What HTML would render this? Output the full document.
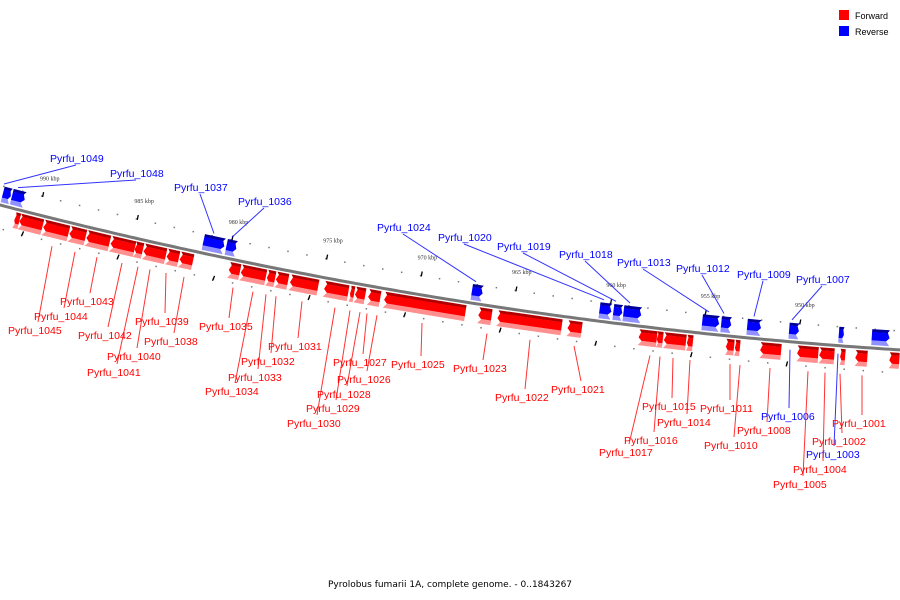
<!DOCTYPE html>
<html><head><meta charset="utf-8"><style>
html,body{margin:0;padding:0;background:#fff;}
svg{display:block;font-family:"Liberation Sans",sans-serif;}
</style></head><body>
<svg id="chart" width="900" height="600" viewBox="0 0 900 600" xmlns="http://www.w3.org/2000/svg">
<g id="ticks"></g>
<path id="backbone" fill="none" stroke="#777" stroke-width="3"/>
<g id="genes"></g>
<g id="labels"></g>
<g>
<rect x="839" y="10" width="10" height="10" fill="#f00"/>
<text x="855" y="19" font-size="9" fill="#000">Forward</text>
<rect x="839" y="26" width="10" height="10" fill="#00f"/>
<text x="855" y="35" font-size="9" fill="#000">Reverse</text>
</g>
<text x="450" y="587" font-size="9" font-family="DejaVu Sans, sans-serif" text-anchor="middle" fill="#000">Pyrolobus fumarii 1A, complete genome. - 0..1843267</text>
</svg>
<script>
// gene data (kbp)
const geneStart = [991.52,990.79,991.05,990.79,989.53,988.16,987.27,986.00,984.74,984.27,983.06,982.38,981.38,980.17,979.80,979.17,977.80,977.33,976.59,974.80,973.44,973.18,972.49,971.65,967.23,966.71,965.71,962.03,960.50,959.77,959.24,958.30,957.35,956.98,955.77,955.09,954.09,953.72,953.25,952.72,951.93,950.51,949.99,948.83,947.89,947.73,946.94,946.15,945.15];
const geneEnd   = [991.95,991.47,990.79,989.58,988.21,987.32,986.06,984.74,984.32,983.11,982.43,981.69,980.27,979.64,979.22,977.86,977.38,976.70,975.12,973.54,973.23,972.65,971.86,967.39,966.66,966.02,962.34,961.29,959.87,959.30,958.30,957.35,957.03,955.82,955.46,954.19,953.56,953.30,952.99,951.99,950.83,949.99,948.88,948.04,947.62,947.47,946.31,945.21,944.63];
const geneStrand= ["R","R","F","F","F","F","F","F","F","F","F","F","R","R","F","F","F","F","F","F","F","F","F","F","R","F","F","F","R","R","R","F","F","F","F","R","R","F","F","R","F","R","F","F","R","F","F","R","F"];
const tickKbp = [990,985,980,975,970,965,960,955,950];
const tickLabels = ["990 kbp","985 kbp","980 kbp","975 kbp","970 kbp","965 kbp","960 kbp","955 kbp","950 kbp"];
const labelNames = ["Pyrfu_1049","Pyrfu_1048","Pyrfu_1037","Pyrfu_1036","Pyrfu_1024","Pyrfu_1020","Pyrfu_1019","Pyrfu_1018","Pyrfu_1013","Pyrfu_1012","Pyrfu_1009","Pyrfu_1007","Pyrfu_1006","Pyrfu_1003",
"Pyrfu_1043","Pyrfu_1044","Pyrfu_1045","Pyrfu_1042","Pyrfu_1039","Pyrfu_1038","Pyrfu_1040","Pyrfu_1041","Pyrfu_1035","Pyrfu_1031","Pyrfu_1032","Pyrfu_1033","Pyrfu_1034","Pyrfu_1027","Pyrfu_1026","Pyrfu_1025","Pyrfu_1028","Pyrfu_1029","Pyrfu_1030","Pyrfu_1023","Pyrfu_1022","Pyrfu_1021","Pyrfu_1015","Pyrfu_1014","Pyrfu_1016","Pyrfu_1017","Pyrfu_1011","Pyrfu_1010","Pyrfu_1008","Pyrfu_1001","Pyrfu_1002","Pyrfu_1004","Pyrfu_1005"];
const labelKind = ["up","up","up","up","up","up","up","up","up","up","up","up","bdn","bdn",
"dn","dn","dn","dn","dn","dn","dn","dn","dn","dn","dn","dn","dn","dn","dn","dn","dn","dn","dn","dn","dn","dn","dn","dn","dn","dn","dn","dn","dn","dn","dn","dn","dn"];
// label layout (x, center y, leader target x)
const labelLayout = [[50,158,4],[110,173,18],[174,187,214],[238,201,232],[377,227,476],[438,237,604],[497,246,616],[559,254,630],[617,262,709],[676,268,724],[737,274,754],[796,279,792],[761,416,790],[806,454,838],
[60,301,97],[34,316,75],[8,330,52],[78,335,122],[135,321,166],[144,341,184],[107,356,150],[87,372,138],[199,326,233],[268,346,302],[241,361,276],[228,377,266],[205,391,253],[333,362,367],[337,379,377],[391,364,422],[317,394,360],[306,408,350],[287,423,335],[453,368,487],[495,397,530],[551,389,574],[642,406,673],[657,422,690],[624,440,660],[599,452,650],[700,408,730],[704,445,740],[737,430,770],[832,423,862],[812,441,840],[793,469,825],[773,484,808]];

const NS="http://www.w3.org/2000/svg";
function X(k){return 37+(990-k)*19.02;}
function f(x){return 205+0.2594*x-1.093e-4*x*x;}
function pt(x,off){const d=0.2594-2*1.093e-4*x;const n=Math.sqrt(1+d*d);return [x-off*d/n, f(x)+off/n];}
function P(a){return a.map(p=>p[0].toFixed(1)+","+p[1].toFixed(1)).join(" ");}
function mk(tag,attrs,parent){const e=document.createElementNS(NS,tag);for(const k in attrs)e.setAttribute(k,attrs[k]);parent.appendChild(e);return e;}

// backbone
let d="";for(let x=-5;x<=905;x+=5){d+=(x===-5?"M":"L")+x+","+f(x).toFixed(1);}
document.getElementById("backbone").setAttribute("d",d);

// ticks & dots
const tg=document.getElementById("ticks");
for(let k=993;k>=943;k--){
  const x=X(k);
  const a=pt(x,-19);const dt=mk("rect",{x:a[0]-0.7,y:a[1]-0.7,width:1.5,height:1.5,fill:"#777"},tg);
  
  
  const b=pt(x+10,23);const db=mk("rect",{x:b[0]-0.7,y:b[1]-0.7,width:1.5,height:1.5,fill:"#777"},tg);
  
  
}
tickKbp.forEach((k,i)=>{
  const x=X(k);
  const a=pt(x,-23),b=pt(x,-18);
  const t=mk("line",{x1:a[0]+1,y1:a[1],x2:a[0],y2:b[1],stroke:"#000","stroke-width":1.3},tg);
  
  
  const c=pt(x+4,-36);
  const tl=mk("text",{x:c[0],y:c[1],"font-size":"6","font-family":"Liberation Serif, serif","text-anchor":"middle",fill:"#333"},tg);
  tl.textContent=tickLabels[i];
  
  
  const xb=X(k+0.5);const p=pt(xb,20),q=pt(xb,25);
  const t2=mk("line",{x1:p[0]+1,y1:p[1],x2:q[0],y2:q[1],stroke:"#000","stroke-width":1.3},tg);
  
  
});

// band of an arrow shape between offsets o1..o2
function band(lo,hi,h,t,b,m,o1,o2,left){
  const hm=(b-t)/2;
  const w=o=>h*Math.abs(o-m)/hm;
  let pts;
  if(left){
    pts=[pt(lo+h-w(o1),o1),pt(hi,o1),pt(hi,o2),pt(lo+h-w(o2),o2)];
    if(o1<m&&o2>m)pts.push(pt(lo,m));
  }else{
    pts=[pt(lo,o1),pt(hi-h+w(o1),o1)];
    if(o1<m&&o2>m)pts.push(pt(hi,m));
    pts.push(pt(hi-h+w(o2),o2),pt(lo,o2));
  }
  return P(pts);
}

// genes
const gg=document.getElementById("genes");
geneStart.forEach((s,i)=>{
  const x1=X(geneStart[i]),x2=X(geneEnd[i]);
  const lo=Math.min(x1,x2),hi=Math.max(x1,x2);
  const h=Math.min(6,(hi-lo)*0.5);
  const fwd=geneStrand[i]==="F";
  const t=fwd?3:-19,b=fwd?19:-3,m=(t+b)/2;
  const cols=fwd?["#b00000","#ff0000","#ff9090"]:["#000099","#0000ff","#9090ff"];
  const g=mk("g",{},gg);
  
  
  mk("polygon",{points:band(lo,hi,h,t,b,m,t,t+3,fwd),fill:cols[0]},g);
  mk("polygon",{points:band(lo,hi,h,t,b,m,t+2.8,b-4.5,fwd),fill:cols[1]},g);
  mk("polygon",{points:band(lo,hi,h,t,b,m,b-4.7,b,fwd),fill:cols[2]},g);
});

// labels
const lg=document.getElementById("labels");
labelNames.forEach((n,i)=>{
  const [lx,ly,tx]=labelLayout[i];
  const kind=labelKind[i];
  const col=(kind==="dn")?"#ff0000":"#0000ff";
  let x1,y1,x2,y2;
  if(kind==="up"){x1=lx+26;y1=ly+7;x2=tx;y2=f(tx)-22;}
  else if(kind==="bdn"){x1=lx+28;y1=ly-8;x2=tx;y2=f(tx)+8;}
  else{x1=lx+30;y1=ly-8;x2=tx;y2=f(tx)+28;}
  const l=mk("line",{x1:x1,y1:y1,x2:x2,y2:y2,stroke:col,"stroke-width":1,opacity:0.8},lg);
  
  
  const t=mk("text",{x:lx,y:ly+3.8,"font-size":"10.5",fill:col},lg);
  t.textContent=n;
  
  
});
</script>
</body></html>
